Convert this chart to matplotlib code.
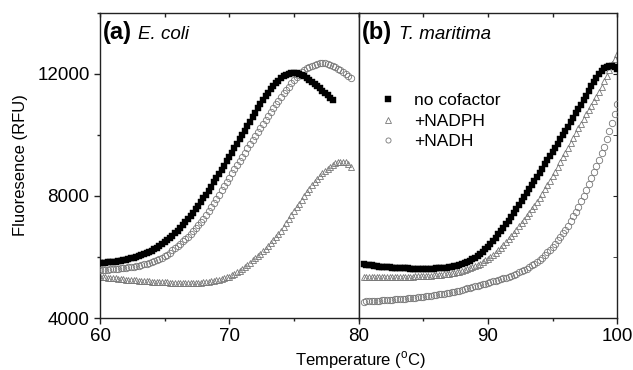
import numpy as np
import matplotlib
matplotlib.use('Agg')
import matplotlib.pyplot as plt
from matplotlib.ticker import MultipleLocator

plt.rcParams['font.family'] = ['Liberation Sans', 'DejaVu Sans']
plt.rcParams['mathtext.fontset'] = 'custom'
plt.rcParams['mathtext.rm'] = 'Liberation Sans'

# (a) E. coli, readings every 0.2 C
t_a_black = np.arange(60.0, 78.01, 0.2)
a_black = [5800, 5806, 5814, 5822, 5831, 5840, 5852, 5865, 5879, 5894,
           5910, 5930, 5952, 5976, 6002, 6030, 6062, 6096, 6132, 6170,
           6210, 6258, 6308, 6362, 6420, 6480, 6552, 6626, 6702, 6780,
           6860, 6952, 7046, 7142, 7240, 7340, 7450, 7564, 7680, 7800,
           7920, 8048, 8178, 8310, 8444, 8580, 8718, 8858, 8998, 9138,
           9280, 9424, 9568, 9712, 9856, 10000, 10146, 10292, 10438, 10584,
           10730, 10868, 11004, 11136, 11264, 11390, 11500, 11600, 11692, 11778,
           11860, 11925, 11975, 12012, 12035, 12045, 12040, 12015, 11970, 11918,
           11860, 11795, 11728, 11662, 11596, 11530, 11455, 11380, 11302, 11226,
           11150]

t_a_nadph = np.arange(60.0, 79.41, 0.2)
a_nadph = [5355, 5345, 5335, 5325, 5315, 5306, 5297, 5288, 5279, 5270,
           5262, 5254, 5246, 5238, 5230, 5223, 5216, 5210, 5203, 5197,
           5191, 5186, 5181, 5177, 5173, 5169, 5166, 5163, 5160, 5157,
           5155, 5153, 5151, 5150, 5150, 5150, 5152, 5155, 5159, 5164,
           5170, 5180, 5193, 5206, 5220, 5236, 5256, 5280, 5308, 5332,
           5360, 5400, 5444, 5494, 5546, 5600, 5668, 5740, 5812, 5886,
           5960, 6036, 6112, 6190, 6270, 6350, 6444, 6542, 6644, 6750,
           6860, 6984, 7110, 7238, 7368, 7500, 7626, 7750, 7874, 7998,
           8120, 8234, 8344, 8450, 8552, 8650, 8738, 8820, 8894, 8964,
           9030, 9080, 9115, 9130, 9125, 9100, 9040, 8950]

t_a_nadh = np.arange(60.0, 79.41, 0.2)
a_nadh = [5570, 5575, 5581, 5588, 5594, 5600, 5608, 5617, 5626, 5635,
          5645, 5658, 5673, 5688, 5704, 5720, 5737, 5756, 5776, 5802,
          5830, 5862, 5896, 5934, 5976, 6020, 6080, 6146, 6214, 6282,
          6350, 6430, 6510, 6590, 6670, 6750, 6842, 6940, 7040, 7142,
          7245, 7370, 7500, 7630, 7765, 7900, 8040, 8180, 8320, 8460,
          8600, 8740, 8878, 9016, 9154, 9290, 9425, 9560, 9694, 9828,
          9960, 10092, 10224, 10356, 10488, 10620, 10748, 10874, 11000, 11126,
          11250, 11365, 11478, 11588, 11695, 11800, 11890, 11975, 12050, 12118,
          12180, 12225, 12265, 12300, 12328, 12350, 12352, 12345, 12330, 12305,
          12270, 12225, 12172, 12115, 12055, 11990, 11925, 11870]

# (b) T. maritima
t_b = np.arange(80.4, 100.01, 0.2)
b_black = [5768, 5752, 5736,
           5722, 5709, 5697, 5687, 5678, 5670, 5663, 5656, 5650, 5645,
           5640, 5636, 5632, 5628, 5624, 5621, 5619, 5617, 5616, 5615,
           5615, 5616, 5617, 5619, 5622, 5625, 5630, 5636, 5644, 5652,
           5662, 5676, 5694, 5714, 5736, 5760, 5792, 5832, 5876, 5920,
           5965, 6024, 6094, 6172, 6254, 6340, 6434, 6532, 6636, 6742,
           6850, 6962, 7078, 7196, 7318, 7440, 7568, 7696, 7824, 7954,
           8085, 8220, 8356, 8492, 8628, 8765, 8901, 9037, 9173, 9309,
           9445, 9581, 9717, 9853, 9990, 10130, 10274, 10418, 10562, 10706,
           10850, 10994, 11138, 11290, 11440, 11590, 11736, 11872, 11990, 12090,
           12180, 12240, 12270, 12260, 12220, 12170]
b_nadph = [5356, 5354, 5352,
           5350, 5348, 5347, 5346, 5346, 5345, 5345, 5345, 5346, 5346,
           5347, 5349, 5350, 5353, 5355, 5357, 5360, 5364, 5368, 5372,
           5375, 5380, 5385, 5390, 5396, 5402, 5410, 5419, 5428, 5438,
           5448, 5462, 5478, 5496, 5516, 5538, 5564, 5592, 5624, 5656,
           5690, 5734, 5782, 5834, 5888, 5940, 6004, 6072, 6146, 6222,
           6300, 6388, 6484, 6586, 6688, 6790, 6894, 7000, 7108, 7218,
           7330, 7446, 7565, 7688, 7812, 7940, 8075, 8215, 8358, 8504,
           8650, 8802, 8955, 9110, 9265, 9420, 9580, 9740, 9900, 10060,
           10220, 10372, 10524, 10676, 10818, 10960, 11108, 11256, 11414, 11588,
           11760, 11944, 12128, 12312, 12480, 12640]
b_nadh = [4537, 4543, 4549,
          4555, 4561, 4567, 4573, 4579, 4585, 4591, 4597, 4603, 4609,
          4615, 4622, 4629, 4636, 4643, 4650, 4660, 4669, 4679, 4690,
          4700, 4711, 4723, 4735, 4747, 4760, 4773, 4787, 4801, 4815,
          4830, 4847, 4865, 4883, 4901, 4920, 4944, 4968, 4992, 5016,
          5040, 5062, 5084, 5106, 5128, 5150, 5174, 5198, 5222, 5246,
          5270, 5298, 5326, 5356, 5388, 5420, 5456, 5494, 5534, 5576,
          5620, 5672, 5724, 5782, 5840, 5900, 5980, 6064, 6152, 6240,
          6330, 6434, 6544, 6660, 6778, 6900, 7032, 7170, 7330, 7488,
          7650, 7826, 8008, 8196, 8388, 8580, 8780, 8980, 9188, 9402,
          9620, 9862, 10120, 10400, 10690, 11000]

labels = ['no cofactor', '+NADPH', '+NADH']
gray = '#777777'

fig, (ax1, ax2) = plt.subplots(1, 2, sharey=True, figsize=(6.33, 3.7), dpi=100)
fig.subplots_adjust(left=0.158, right=0.975, bottom=0.1405, top=0.965, wspace=0)

def draw(ax, t1, y1, t2, y2, t3, y3):
    ax.plot(t2, y2, ls='none', marker='^', ms=4.8, mfc='none', mec=gray, mew=0.6, zorder=2, label=labels[1])
    ax.plot(t3, y3, ls='none', marker='o', ms=4.6, mfc='none', mec=gray, mew=0.6, zorder=3, label=labels[2])
    ax.plot(t1, y1, ls='none', marker='s', ms=5.0, mfc='black', mec='black', mew=0.3, zorder=4, label=labels[0])

draw(ax1, t_a_black, a_black, t_a_nadph, a_nadph, t_a_nadh, a_nadh)
draw(ax2, t_b, b_black, t_b, b_nadph, t_b, b_nadh)

ax1.set_xlim(60, 80)
ax2.set_xlim(80, 100)
ax1.set_ylim(4000, 14000)
ax1.set_xticks([60, 70])
ax2.set_xticks([80, 90, 100])
ax1.set_yticks([4000, 8000, 12000])
ax1.yaxis.set_minor_locator(MultipleLocator(2000))

for ax in (ax1, ax2):
    ax.xaxis.set_minor_locator(MultipleLocator(5))
    for s in ax.spines.values():
        s.set_linewidth(1.0)
        s.set_color('#222222')
    ax.tick_params(which='major', direction='out', length=4, width=1, labelsize=13.5, color='#222222')
    ax.tick_params(which='minor', direction='out', length=2.5, width=1, color='#222222')
    top = ax.secondary_xaxis('top')
    top.set_xticks([60, 70] if ax is ax1 else [90])
    top.xaxis.set_minor_locator(MultipleLocator(5))
    top.tick_params(which='both', direction='in', length=3, width=1, labeltop=False, color='#222222')
    top.spines['top'].set_visible(False)

ax2.tick_params(axis='y', which='both', left=False)
right = ax2.secondary_yaxis('right')
right.set_yticks([8000, 12000])
right.yaxis.set_minor_locator(MultipleLocator(2000))
right.tick_params(which='both', direction='in', length=3, labelright=False, color='#222222')
right.spines['right'].set_visible(False)

ax1.set_ylabel('Fluoresence (RFU)', fontsize=12)
ax1.yaxis.set_label_coords(-0.28, 0.5)
fig.text(0.570, 0.012, r'Temperature ($^{\rm o}$C)', ha='center', va='baseline', fontsize=12)

ax1.text(0.01, 0.915, '(a)', transform=ax1.transAxes, fontsize=17, fontweight='bold', va='baseline')
ax1.text(0.146, 0.915, 'E. coli', transform=ax1.transAxes, fontsize=13.5, style='italic', va='baseline')
ax2.text(0.014, 0.915, '(b)', transform=ax2.transAxes, fontsize=17, fontweight='bold', va='baseline')
ax2.text(0.157, 0.915, 'T. maritima', transform=ax2.transAxes, fontsize=13.5, style='italic', va='baseline')

h, l = ax2.get_legend_handles_labels()
order = [2, 0, 1]
ax2.legend([h[i] for i in order], [l[i] for i in order], loc='upper left', bbox_to_anchor=(0.081, 0.737),
           frameon=False, fontsize=12.5, handlelength=1.0, handletextpad=1.0, labelspacing=0.3,
           borderpad=0, borderaxespad=0, numpoints=1, markerscale=0.8)

fig.savefig('out.png', dpi=100)
